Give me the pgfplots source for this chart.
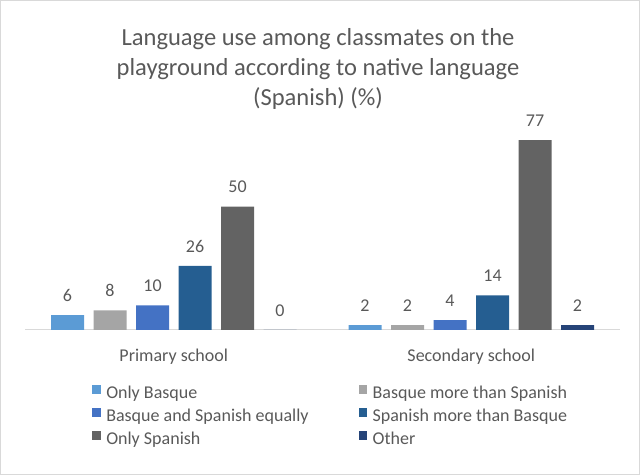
\documentclass[border=0pt]{standalone}
\usepackage{pgfplots}
\pgfplotsset{compat=1.18}
\usepackage{fontspec}
\setmainfont{Carlito}
\definecolor{txt}{HTML}{595959}
\definecolor{cA}{HTML}{5B9BD5}
\definecolor{cB}{HTML}{A5A5A5}
\definecolor{cC}{HTML}{4472C4}
\definecolor{cD}{HTML}{255E91}
\definecolor{cE}{HTML}{636363}
\definecolor{cF}{HTML}{264478}
\definecolor{frame}{HTML}{D9D9D9}
\begin{document}
\begin{tikzpicture}
\path[use as bounding box] (0,0) rectangle (480pt,356.25pt);
\draw[frame, line width=0.75pt] (0.375pt,0.375pt) rectangle (479.625pt,355.875pt);
\node[align=center, text=txt, font=\fontsize{18.4pt}{22.5pt}\selectfont] at (238.5pt,304.5pt)
  {Language use among classmates on the\\playground according to native language\\(Spanish) (\%)};
\begin{axis}[
  at={(18.75pt,108.75pt)}, anchor=south west,
  scale only axis, width=446.25pt, height=166.5pt,
  ymin=0, ymax=90, xmin=-0.5, xmax=1.5,
  ybar=7.125pt, bar width=24.75pt,
  axis x line*=bottom, hide y axis,
  axis line style={frame, line width=0.75pt},
  xtick={0,1}, xticklabels={Primary school, Secondary school},
  major tick length=0pt,
  xticklabel style={text=txt, font=\fontsize{13.5pt}{16pt}\selectfont, anchor=base, inner sep=0pt, yshift=-24pt},
  /pgf/number format/assume math mode=true,
  nodes near coords,
  every node near coord/.append style={text=txt, font=\fontsize{13.5pt}{16pt}\selectfont, anchor=south, inner sep=0pt, yshift=10pt},
  legend columns=2,
  legend cell align=left,
  legend image code/.code={\fill[#1] (0pt,0.5pt) rectangle (6.5pt,7pt);},
  legend style={draw=none, fill=none, at={(axis description cs:0.1126,-0.2477)}, anchor=north west,
    inner sep=0pt, row sep=4pt,
    font=\fontsize{13.5pt}{16pt}\selectfont, text=txt,
    nodes={inner sep=0pt, text height=9.5pt, text depth=3pt},
    /tikz/column 1/.style={column sep=4pt},
    /tikz/column 2/.style={column sep=37.5pt},
    /tikz/column 3/.style={column sep=4pt}},
]
\addplot[fill=cA, draw=none] coordinates {(0,6) (1,2)};
\addplot[fill=cB, draw=none] coordinates {(0,8) (1,2)};
\addplot[fill=cC, draw=none] coordinates {(0,10) (1,4)};
\addplot[fill=cD, draw=none] coordinates {(0,26) (1,14)};
\addplot[fill=cE, draw=none] coordinates {(0,50) (1,77)};
\addplot[fill=cF, draw=none] coordinates {(0,0) (1,2)};
\legend{Only Basque, Basque more than Spanish, Basque and Spanish equally, Spanish more than Basque, Only Spanish, Other}
\end{axis}
\end{tikzpicture}
\end{document}
